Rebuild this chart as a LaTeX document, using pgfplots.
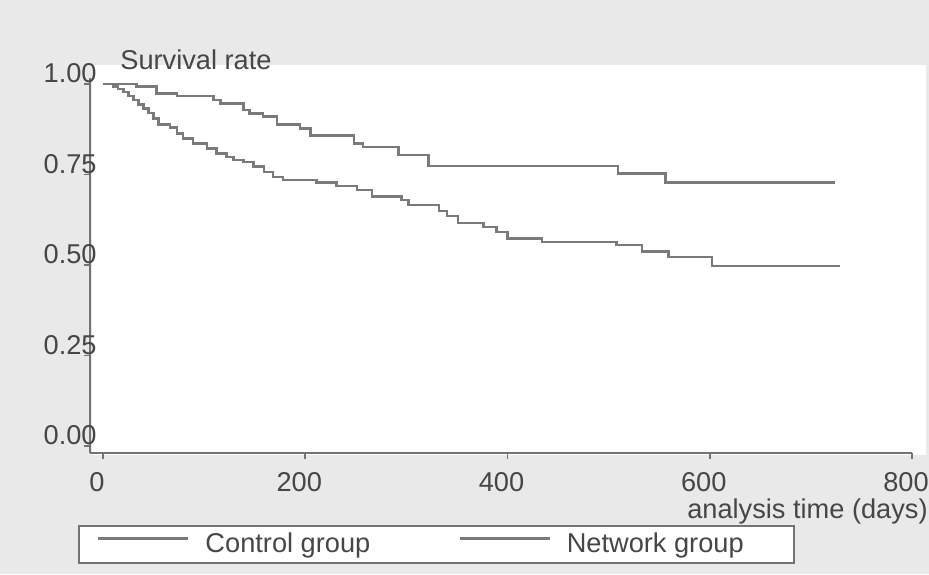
\documentclass[border=0pt]{standalone}
\usepackage{fontspec}
\setmainfont{Liberation Sans}
\usepackage{pgfplots}
\usepackage{pgfplotstable}
\pgfplotsset{compat=1.18}

\definecolor{bggray}{RGB}{233,233,233}
\definecolor{curvegray}{RGB}{122,122,122}
\definecolor{axgray}{RGB}{115,115,115}
\definecolor{txtgray}{RGB}{70,70,70}

% Kaplan-Meier steps: time (days), survival
\pgfplotstableread{
t s
0 1.000
10 0.993
15 0.987
20 0.978
25 0.967
30 0.956
35 0.944
40 0.933
45 0.920
50 0.905
55 0.889
66 0.880
73 0.864
79 0.850
89 0.836
103 0.822
112 0.809
122 0.799
129 0.790
139 0.785
149 0.772
159 0.758
168 0.744
178 0.735
211 0.728
231 0.718
251 0.707
266 0.689
295 0.680
302 0.666
332 0.649
340 0.636
351 0.617
376 0.606
389 0.592
400 0.574
434 0.564
508 0.555
533 0.537
559 0.523
602 0.498
729 0.498
}\control

\pgfplotstableread{
t s
0 1.000
33 0.993
53 0.974
73 0.967
109 0.956
116 0.947
139 0.928
145 0.919
158 0.910
172 0.889
195 0.878
205 0.858
248 0.836
257 0.826
292 0.804
322 0.774
509 0.753
556 0.728
724 0.728
}\network

\begin{document}
\begin{tikzpicture}[font=\fontsize{13.6}{16}\selectfont]
\useasboundingbox (0,0) rectangle (464.5pt,287pt);
\fill[bggray] (0,0) rectangle (464.5pt,287pt);
\fill[white] (46pt,59.5pt) rectangle (463pt,254.5pt);
\begin{axis}[
    at={(45pt,60.5pt)}, anchor=south west,
    scale only axis, width=411pt, height=187.5pt,
    xmin=-12.9, xmax=800, ymin=-0.019, ymax=1.017,
    axis x line*=bottom, axis y line*=left,
    axis line style={axgray, line width=1pt, -},
    xtick={0,200,400,600,800},
    ytick={0,0.25,0.5,0.75,1},
    yticklabels={0.00,0.25,0.50,0.75,1.00},
    tick align=outside, major tick length=3pt,
    tick style={axgray, line width=0.8pt},
    /pgf/number format/assume math mode=true,
    ticklabel style={text=txtgray, inner sep=0pt},
    yticklabel style={anchor=east, xshift=6.5pt, yshift=5.5pt},
    xticklabel style={anchor=north, xshift=-3pt, yshift=-6.5pt},
    xlabel={analysis time (days)},
    xlabel style={at={(axis description cs:1,0)}, anchor=east, inner sep=0pt,
        xshift=8pt, yshift=-29pt, text=txtgray},
    legend columns=2,
    legend cell align=left,
    legend style={at={(axis description cs:-0.0146,-0.192)}, anchor=north west,
        draw=axgray, line width=1pt, fill=white, text=txtgray,
        inner xsep=9pt, inner ysep=3.5pt,
        nodes={inner sep=0pt, anchor=west},
        /tikz/every even column/.append style={column sep=44pt},
        /tikz/every odd column/.append style={column sep=8pt}},
    legend image code/.code={\draw[#1] (0pt,0.3em) -- (45pt,0.3em);},
]
\addplot[const plot, curvegray, line width=1.25pt] table[x=t, y=s] {\control};
\addlegendentry{Control group}
\addplot[const plot, curvegray, line width=1.25pt] table[x=t, y=s] {\network};
\addlegendentry{Network group\hspace*{16pt}}
\end{axis}
\node[anchor=west, inner sep=0pt, text=txtgray] at (60pt,257pt) {Survival rate};
\end{tikzpicture}
\end{document}
